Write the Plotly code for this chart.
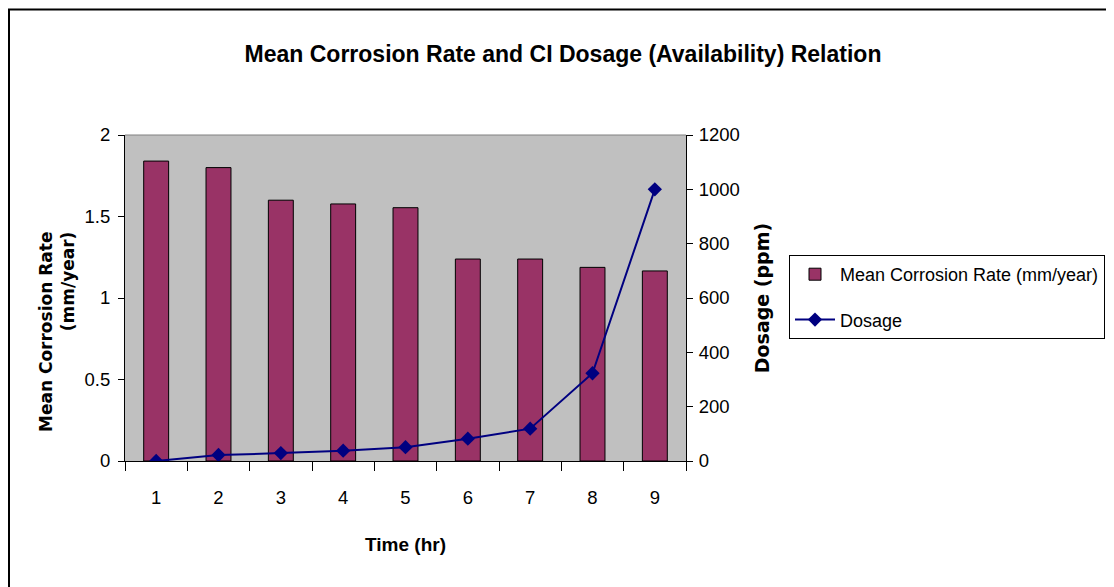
import plotly.graph_objects as go

categories = ["1", "2", "3", "4", "5", "6", "7", "8", "9"]
corrosion_rate = [1.84, 1.80, 1.60, 1.577, 1.554, 1.239, 1.239, 1.188, 1.166]
dosage = [0, 22, 29, 38, 51, 82, 119, 323, 1000]
left_ticks = [0, 0.5, 1, 1.5, 2]
right_ticks = [0, 200, 400, 600, 800, 1000, 1200]

FONT = "Liberation Sans, Arial, sans-serif"
WIDE = "DejaVu Sans, Liberation Sans, Arial, sans-serif"

# the page body has an 8px margin, so figure coords = screen coords - 8
OFF = 8
W, H = 1106, 587
# plot area in screen coordinates (from the reference)
SL, SR, ST, SB = 125, 686, 135, 461
L, R, T, B = SL - OFF, SR - OFF, ST - OFF, SB - OFF


def px_x(sx):
    return (sx - OFF - L) / (R - L)


def px_y(sy):
    return (B - (sy - OFF)) / (B - T)


fig = go.Figure()
fig.add_trace(go.Bar(
    x=categories, y=corrosion_rate, name="Mean Corrosion Rate (mm/year)",
    marker=dict(color="#993366", line=dict(color="black", width=1)),
    yaxis="y", legendgroup="a",
))
fig.add_trace(go.Scatter(
    x=categories, y=dosage, name="Dosage", mode="lines+markers",
    line=dict(color="#000080", width=2),
    marker=dict(symbol="diamond", size=11, color="#000080"),
    yaxis="y2", legendgroup="b",
))

boundaries = [i - 0.5 for i in range(len(categories) + 1)]

fig.update_layout(
    width=W, height=H, autosize=False,
    margin=dict(l=L, r=W - R, t=T, b=H - B, pad=0, autoexpand=False),
    paper_bgcolor="white", plot_bgcolor="#C0C0C0",
    bargap=0.6,
    showlegend=True,
    title=dict(
        text="Mean Corrosion Rate and CI Dosage (Availability) Relation",
        font=dict(family=FONT, size=23, color="black", weight="bold"),
        x=(563 - OFF) / W, xref="container", xanchor="center",
        y=1 - (54 - OFF) / H, yref="container", yanchor="middle",
    ),
    xaxis=dict(
        type="category", categoryorder="array", categoryarray=categories,
        tickson="boundaries", ticks="outside", ticklen=9, tickcolor="black", tickwidth=1,
        showline=True, linecolor="black", linewidth=1, showgrid=False, zeroline=False,
        tickfont=dict(family=FONT, size=18.5, color="black"),
        ticklabelstandoff=20,
        title=dict(text="Time (hr)", font=dict(family=FONT, size=19, color="black", weight="bold"),
                   standoff=30),
        range=[-0.5, len(categories) - 0.5],
    ),
    xaxis2=dict(
        overlaying="x", type="linear", range=[-0.5, len(categories) - 0.5],
        tickmode="array", tickvals=boundaries, ticks="inside", ticklen=6, tickcolor="black",
        showticklabels=False, showline=False, showgrid=False, zeroline=False,
    ),
    yaxis=dict(
        range=[0, 2], tickvals=left_ticks, ticktext=[f"{v:g}" for v in left_ticks],
        ticks="outside", ticklen=6, tickcolor="black",
        showline=True, linecolor="black", linewidth=1, showgrid=False, zeroline=False,
        tickfont=dict(family=FONT, size=18.5, color="black"),
        ticklabelstandoff=4,
    ),
    yaxis2=dict(
        overlaying="y", side="right", range=[0, 1200], tickvals=right_ticks,
        ticks="outside", ticklen=6, tickcolor="black",
        showline=True, linecolor="black", linewidth=1, showgrid=False, zeroline=False,
        tickfont=dict(family=FONT, size=18.5, color="black"),
        ticklabelstandoff=2,
        title=dict(text="Dosage (ppm)",
                   font=dict(family=WIDE, size=19, color="black", weight="bold"), standoff=16),
    ),
    yaxis3=dict(
        overlaying="y", side="left", range=[0, 2], tickvals=left_ticks,
        ticks="inside", ticklen=5, tickcolor="black",
        showticklabels=False, showline=False, showgrid=False, zeroline=False,
    ),
    yaxis4=dict(
        overlaying="y", side="right", range=[0, 1200], tickvals=right_ticks,
        ticks="inside", ticklen=6, tickcolor="black",
        showticklabels=False, showline=False, showgrid=False, zeroline=False,
    ),
    legend=dict(
        x=px_x(1105), y=px_y(255), xanchor="right", yanchor="top",
        bordercolor="black", borderwidth=1, bgcolor="white",
        font=dict(family=FONT, size=18, color="black"),
        traceorder="grouped", tracegroupgap=19,
        itemwidth=40,
    ),
    annotations=[
        dict(text="Mean Corrosion Rate<br>(mm/year)", textangle=-90, align="right",
             xref="paper", yref="paper", x=px_x(57), y=px_y(332),
             xanchor="center", yanchor="middle", showarrow=False,
             font=dict(family=WIDE, size=17, color="black", weight="bold")),
    ],
    shapes=[
        dict(type="line", xref="paper", yref="paper", x0=0, x1=1, y0=1, y1=1,
             line=dict(color="#808080", width=1)),
        dict(type="line", xref="paper", yref="paper",
             x0=px_x(9), x1=px_x(9), y0=px_y(9), y1=px_y(620),
             line=dict(color="black", width=2)),
        dict(type="line", xref="paper", yref="paper",
             x0=px_x(8), x1=px_x(1140), y0=px_y(9.5), y1=px_y(9.5),
             line=dict(color="black", width=2)),
    ],
)

fig.write_html("out.html")
